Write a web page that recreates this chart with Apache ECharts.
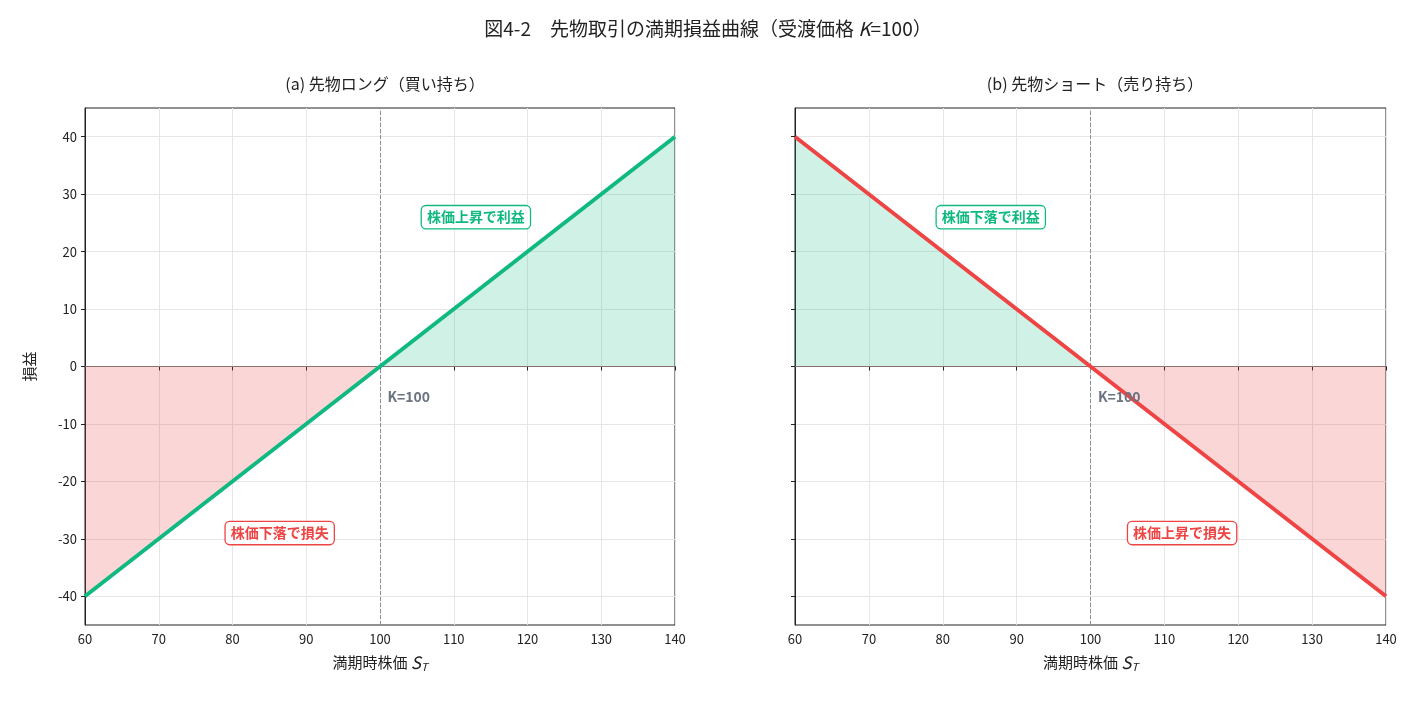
<!DOCTYPE html>
<html><head><meta charset="utf-8">
<script src="https://cdn.jsdelivr.net/npm/echarts@6/dist/echarts.min.js"></script>
<style>html,body{margin:0;background:#fff}#c{width:1416px;height:703px}</style>
</head><body><div id="c"></div>
<script>
const prices = [60, 100, 140];
const longPL = [-40, 0, 40];
const shortPL = [40, 0, -40];
const xTicks = [60,70,80,90,100,110,120,130,140];
const yTicks = [-40,-30,-20,-10,0,10,20,30,40];
const K = 100;
const GREEN='#10b981', RED='#ef4444';
const F='"Noto Sans CJK JP", sans-serif';
const chart = echarts.init(document.getElementById('c'));
function seg(data, vals, from, to){ const r=[]; for(let i=0;i<data.length;i++){ if(data[i]>=from&&data[i]<=to) r.push([data[i],vals[i]]);} return r;}
function areaSeries(idx, pts, fill){
  return {type:'line', xAxisIndex:idx, yAxisIndex:idx, data:pts, symbol:'none', lineStyle:{width:0}, areaStyle:{color:fill, origin:0, opacity:1}, z:1, silent:true};
}
function panel(idx, vals, color, boxes){
  const s=[];
  const left=seg(prices,vals,60,K), right=seg(prices,vals,K,140);
  s.push(areaSeries(idx,left, left[0][1]<0?'rgba(239,68,68,0.22)':'rgba(16,185,129,0.2)'));
  s.push(areaSeries(idx,right, right[right.length-1][1]<0?'rgba(239,68,68,0.22)':'rgba(16,185,129,0.2)'));
  s.push({type:'line', xAxisIndex:idx, yAxisIndex:idx, data:prices.map((p,i)=>[p,vals[i]]), symbol:'none', lineStyle:{color, width:4}, z:5,
    markLine:{symbol:'none', silent:true, label:{show:false}, data:[
      {xAxis:K, lineStyle:{type:'dashed', color:'#8a8f9c', width:1}},
      {yAxis:0, lineStyle:{type:'solid', color:'#8c7070', width:1.2}}]}});
  s.push({type:'scatter', xAxisIndex:idx, yAxisIndex:idx, symbolSize:0, z:10, silent:true, itemStyle:{opacity:1},
    data:boxes.map(b=>({value:[b.x,b.y], label:{show:true, position:'inside', formatter:b.t, color:b.c, fontFamily:F, fontWeight:'bold', fontSize:14, opacity:1,
      backgroundColor: b.box?'#fff':'transparent', borderColor:b.box?b.c:'transparent', borderWidth:b.box?1.3:0, borderRadius:4, padding:b.box?[4,5]:0,
      align:b.align||'center'}}))});
  return s;
}
const xAxisBase = (i)=>({type:'value', gridIndex:i, min:60, max:140, interval:10,
  name:'{a|満期時株価 }{b|S}{c|T}', nameLocation:'middle', nameGap:28,
  nameTextStyle:{rich:{a:{fontFamily:F,fontSize:15,color:'#222'},b:{fontFamily:F,fontSize:17,fontStyle:'italic',color:'#222'},c:{fontFamily:F,fontSize:11,fontStyle:'italic',color:'#222',verticalAlign:'bottom',padding:[8,0,0,0]}}},
  axisLine:{lineStyle:{color:'#222'}}, axisTick:{show:true,length:4,lineStyle:{color:'#222'}},
  axisLabel:{color:'#222',fontFamily:F,fontSize:13, formatter:v=>xTicks.includes(v)?String(v):''},
  splitLine:{show:true,lineStyle:{color:'#e6e6e6'}}});
const yAxisBase = (i)=>({type:'value', gridIndex:i, min:-45, max:45, interval:5,
  name:i===0?'損益':'', nameLocation:'middle', nameGap:48, nameTextStyle:{fontFamily:F,fontSize:15,color:'#222'},
  axisLine:{show:true,lineStyle:{color:'#222'}},
  axisTick:{show:true,length:4,lineStyle:{color:'#222'}, customValues:yTicks},
  axisLabel:{show:i===0,color:'#222',fontFamily:F,fontSize:13, customValues:yTicks},
  splitLine:{show:true,lineStyle:{color:'#e6e6e6'}}});
chart.setOption({
  animation:false,
  title:[
    {text:'図4-2　先物取引の満期損益曲線（受渡価格 {i|K}=100）', left:'center', top:14, textStyle:{fontFamily:F,fontSize:19,fontWeight:'normal',color:'#222',rich:{i:{fontFamily:F,fontSize:19,fontStyle:'italic',color:'#222'}}}},
    {text:'(a) 先物ロング（買い持ち）', left:380, textAlign:'center', top:71, textStyle:{fontFamily:F,fontSize:16,fontWeight:'normal',color:'#222'}},
    {text:'(b) 先物ショート（売り持ち）', left:1090, textAlign:'center', top:71, textStyle:{fontFamily:F,fontSize:16,fontWeight:'normal',color:'#222'}}
  ],
  grid:[
    {left:85, width:590, top:108, height:517, show:true, borderColor:'#222', borderWidth:1},
    {left:795, width:591, top:108, height:517, show:true, borderColor:'#222', borderWidth:1}
  ],
  xAxis:[xAxisBase(0), xAxisBase(1)],
  yAxis:[yAxisBase(0), yAxisBase(1)],
  series:[
    ...panel(0,longPL,GREEN,[
      {x:113,y:26,t:'株価上昇で利益',c:GREEN,box:true},
      {x:86.4,y:-29,t:'株価下落で損失',c:RED,box:true},
      {x:101,y:-5.2,t:'K=100',c:'#6b7280',align:'left'}]),
    ...panel(1,shortPL,RED,[
      {x:86.5,y:26,t:'株価下落で利益',c:GREEN,box:true},
      {x:112.4,y:-29,t:'株価上昇で損失',c:RED,box:true},
      {x:101,y:-5.2,t:'K=100',c:'#6b7280',align:'left'}])
  ]
});
</script></body></html>
